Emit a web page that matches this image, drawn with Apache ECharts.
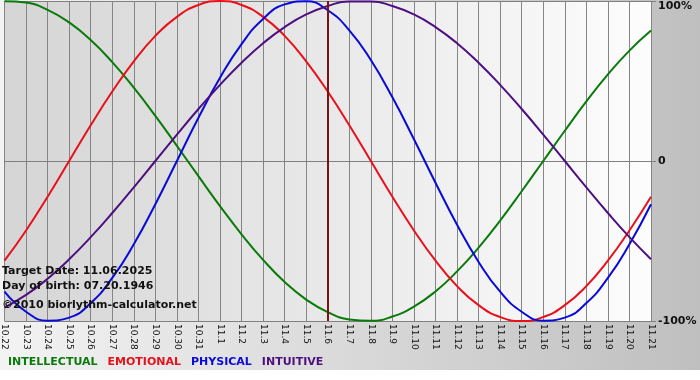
<!DOCTYPE html>
<html>
<head>
<meta charset="utf-8">
<script src="https://cdn.jsdelivr.net/npm/echarts@6/dist/echarts.min.js"></script>
<style>
html,body{margin:0;padding:0;background:#fff;}
#chart{width:700px;height:380px;}
</style>
</head>
<body>
<div id="chart"></div>
<script>
var categories = ['10.22','10.23','10.24','10.25','10.26','10.27','10.28','10.29','10.30','10.31',
  '11.1','11.2','11.3','11.4','11.5','11.6','11.7','11.8','11.9','11.10','11.11','11.12','11.13',
  '11.14','11.15','11.16','11.17','11.18','11.19','11.20','11.21'];

var intellectual = [99.9,99.0,94.5,86.6,75.6,61.8,45.8,28.2,9.5,-9.5,-28.2,-45.8,-61.8,-75.6,-86.6,
  -94.5,-99.0,-99.9,-97.2,-91.0,-81.5,-69.0,-54.1,-37.2,-18.9,0,18.9,37.2,54.1,69.0,81.5];
var emotional = [-62.3,-43.4,-22.3,0,22.3,43.4,62.3,78.2,90.1,97.5,100,97.5,90.1,78.2,62.3,43.4,
  22.3,0,-22.3,-43.4,-62.3,-78.2,-90.1,-97.5,-100,-97.5,-90.1,-78.2,-62.3,-43.4,-22.3];
var physical = [-81.7,-94.2,-99.8,-97.9,-88.8,-73.1,-52.0,-27.0,0,27.0,52.0,73.1,88.8,97.9,99.8,
  94.2,81.7,63.1,39.8,13.6,-13.6,-39.8,-63.1,-81.7,-94.2,-99.8,-97.9,-88.8,-73.1,-52.0,-27.0];
var intuitive = [-91.6,-83.7,-73.6,-61.4,-47.6,-32.5,-16.5,0,16.5,32.5,47.6,61.4,73.6,83.7,91.6,
  96.9,99.7,99.7,96.9,91.6,83.7,73.6,61.4,47.6,32.5,16.5,0,-16.5,-32.5,-47.6,-61.4];
var yTicks = [-100, 0, 100];
var targetDay = '11.6';
var infoLines = ['Target Date: 11.06.2025', 'Day of birth: 07.20.1946', '\u00a92010 biorlythm-calculator.net'];
var seriesNames = ['INTELLECTUAL','EMOTIONAL','PHYSICAL','INTUITIVE'];
var seriesColors = ['#0a7a0a','#e8101a','#0a0ad8','#4e1080'];
var seriesData = [intellectual, emotional, physical, intuitive];

var chart = echarts.init(document.getElementById('chart'), null, {renderer:'canvas'});
var FONT = 'DejaVu Sans';

var series = seriesNames.map(function(n, k){
  return {
    name: n, type: 'line', data: seriesData[k], smooth: true, symbol: 'none',
    lineStyle: {color: seriesColors[k], width: 2}, itemStyle: {color: seriesColors[k]},
    z: 3, animation: false
  };
});
series[0].markLine = {
  silent: true, symbol: 'none', animation: false,
  label: {show: false},
  lineStyle: {color: '#7a1414', width: 2, type: 'solid'},
  data: [{xAxis: targetDay}]
};

var option = {
  animation: false,
  backgroundColor: {type:'linear', x:0, y:0, x2:1, y2:0,
    colorStops:[{offset:0,color:'#f3f3f3'},{offset:1,color:'#bfbfbf'}]},
  grid: {left: 0, right: 49, top: 1, bottom: 59, show: true, borderWidth: 0,
    backgroundColor: {type:'linear', x:0, y:0, x2:1, y2:0,
      colorStops:[{offset:0,color:'#d5d5d5'},{offset:1,color:'#fdfdfd'}]}},
  legend: {
    left: 3, top: 357, icon: 'none', itemWidth: 0, itemHeight: 0, itemGap: 5,
    padding: 0,
    textStyle: {fontFamily: FONT, fontWeight: 'bold', fontSize: 11},
    selectedMode: false,
    data: seriesNames.map(function(n,k){return {name:n, textStyle:{color: seriesColors[k]}};})
  },
  xAxis: {
    type: 'category', data: categories, boundaryGap: false,
    axisLine: {lineStyle: {color: '#808080', width: 1}},
    axisTick: {show: true, interval: 0, length: 4, lineStyle: {color: '#808080'}},
    axisLabel: {interval: 0, rotate: -90, fontFamily: FONT, fontSize: 9, color: '#111', margin: 3},
    splitLine: {show: true, interval: 0, lineStyle: {color: '#858585', width: 1}}
  },
  yAxis: {
    type: 'value', position: 'right', min: -100, max: 100, interval: 100,
    axisLine: {show: false}, axisTick: {show: true, length: 5, lineStyle:{color:'#808080'}},
    axisLabel: {fontFamily: FONT, fontSize: 11, fontWeight: 'bold', color: '#111', margin: 7,
      verticalAlignMaxLabel: 'top',
      formatter: function(v){ return v === 0 ? '0' : v + '%'; }},
    splitLine: {show: true, lineStyle: {color: '#808080', width: 1}}
  },
  graphic: [
    {type:'rect', left:0, top:370, shape:{width:700, height:10}, style:{fill:'#ffffff'}, silent:true},
    {type:'text', left:2, top:266, z:10, style:{text: infoLines[0], font:'bold 11px "DejaVu Sans"', fill:'#111'}},
    {type:'text', left:2, top:281, z:10, style:{text: infoLines[1], font:'bold 11px "DejaVu Sans"', fill:'#111'}},
    {type:'text', left:2, top:300, z:10, style:{text: infoLines[2], font:'bold 11px "DejaVu Sans"', fill:'#111'}}
  ],
  series: series
};
chart.setOption(option);
</script>
</body>
</html>
